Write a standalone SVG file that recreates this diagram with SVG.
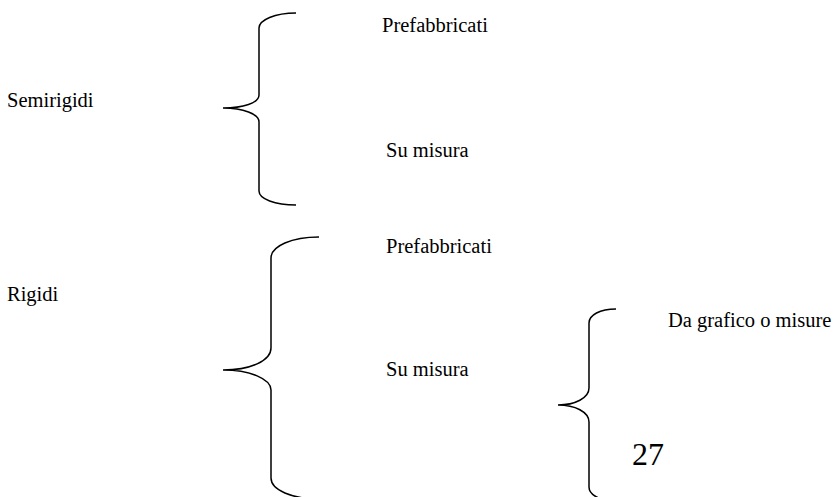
<svg xmlns="http://www.w3.org/2000/svg" width="840" height="497" viewBox="0 0 840 497">
<style>
text{font-family:"Liberation Serif","Times New Roman",serif;font-size:20.5px;fill:#000}
.brace{fill:none;stroke:#000;stroke-width:1.5}
.big{font-size:32px}
</style>
<rect width="840" height="497" fill="#fff"/>
<g id="semirigidi"><text x="7" y="107">Semirigidi</text></g>
<g id="semi-prefabbricati"><text x="382" y="32">Prefabbricati</text></g>
<g id="semi-su-misura"><text x="386" y="157">Su misura</text></g>
<g id="rigidi"><text x="7" y="301">Rigidi</text></g>
<g id="rigidi-prefabbricati"><text x="386" y="253">Prefabbricati</text></g>
<g id="rigidi-su-misura"><text x="386" y="376">Su misura</text></g>
<g id="da-grafico"><text x="668" y="327">Da grafico o misure</text></g>
<g id="page-number"><text class="big" x="632" y="465">27</text></g>
<g id="connectors">
<path class="brace" d="M296,13 C275,13 259,20 259,28 L259,95 C259,103 243,108 223,108 C243,108 259,114 259,122 L259,191 C259,199 275,205 296,205"/>
<path class="brace" d="M319,237 C292,237 271,246 271,258 L271,348 C271,361 250,370 223,370 C250,370 271,379 271,390 L271,478 C271,490 292,499 319,499"/>
<path class="brace" d="M616,309 C600,309 589,315 589,323 L589,388 C589,398 575,405 558,405 C575,405 589,412 589,422 L589,487 C589,495 600,501 616,501"/>
</g>
</svg>
